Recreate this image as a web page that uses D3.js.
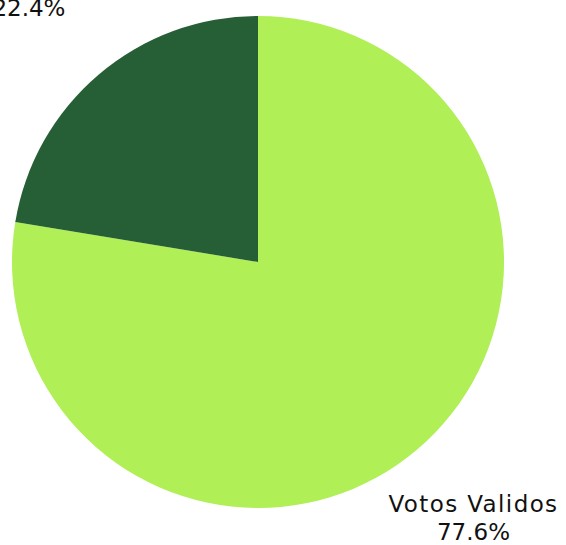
<!DOCTYPE html>
<html>
<head>
<meta charset="utf-8">
<script src="https://cdn.jsdelivr.net/npm/d3@7"></script>
<style>
  body { margin: 0; background: #fff; }
  text { font-family: "DejaVu Sans", sans-serif; fill: #111; }
</style>
</head>
<body>
<script>
// slice data (clockwise from 12 o'clock)
var labels = ["Votos Validos", "Votos Nulos"];
var values = [77.6, 22.4];
var colors = ["#b0ef56", "#265e35"];

var width = 566;
var height = 545;
var cx = 258, cy = 262, radius = 246;

var data = labels.map(function (l, i) {
    return { label: l, value: values[i], color: colors[i] };
});

var svg = d3.select("body").append("svg")
    .attr("width", width)
    .attr("height", height);

var g = svg.append("g")
    .attr("transform", "translate(" + cx + "," + cy + ")");

var pie = d3.pie()
    .sort(null)
    .value(function (d) { return d.value; });

var arc = d3.arc()
    .innerRadius(0)
    .outerRadius(radius);

var arcs = pie(data);

g.selectAll("path")
    .data(arcs)
    .enter().append("path")
    .attr("d", arc)
    .attr("fill", function (d) { return d.data.color; });

// labels outside the pie, along the slice's mid angle
var labelGroups = g.selectAll("g.label")
    .data(arcs)
    .enter().append("g")
    .attr("class", "label")
    .attr("transform", function (d) {
        var a = (d.startAngle + d.endAngle) / 2;
        var r = Math.cos(a) > 0 ? 354 : 333; // upper half gets a bit more room
        return "translate(" + (Math.sin(a) * r) + "," + (-Math.cos(a) * r) + ")";
    });

labelGroups.append("text")
    .attr("text-anchor", "middle")
    .attr("font-size", 23)
    .attr("letter-spacing", 1.4)
    .attr("y", -4)
    .text(function (d) { return d.data.label; });

labelGroups.append("text")
    .attr("text-anchor", "middle")
    .attr("font-size", 23)
    .attr("y", 24)
    .text(function (d) { return d.data.value.toFixed(1) + "%"; });
</script>
</body>
</html>
